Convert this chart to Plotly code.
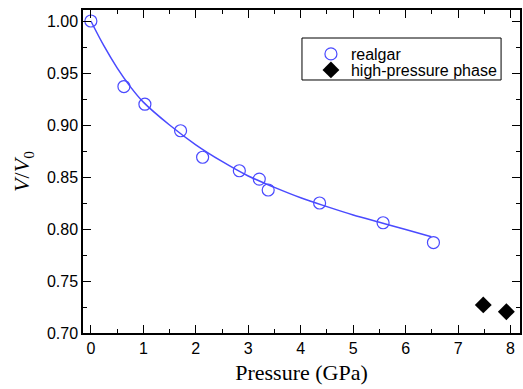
import plotly.graph_objects as go

# realgar data
p_realgar = [0.0, 0.63, 1.03, 1.71, 2.13, 2.83, 3.21, 3.38, 4.36, 5.57, 6.53]
v_realgar = [1.000, 0.937, 0.920, 0.8945, 0.869, 0.856, 0.848, 0.8375, 0.825, 0.806, 0.787]

# high-pressure phase
p_hp = [7.48, 7.92]
v_hp = [0.727, 0.7205]

# fitted curve
p_fit = [0.0, 0.25, 0.5, 0.75, 1.0, 1.5, 2.0, 2.5, 3.0, 3.5, 4.0, 4.5, 5.0, 5.5, 6.0, 6.49]
v_fit = [1.000, 0.976, 0.955, 0.937, 0.922, 0.900, 0.881, 0.865, 0.851, 0.840, 0.830,
         0.8215, 0.8135, 0.8065, 0.7995, 0.7926]

x_ticks = [0, 1, 2, 3, 4, 5, 6, 7, 8]
y_ticks = [0.70, 0.75, 0.80, 0.85, 0.90, 0.95, 1.00]

blue = "#4a4aff"

fig = go.Figure()
fig.add_trace(go.Scatter(x=p_fit, y=v_fit, mode="lines", line=dict(color=blue, width=1.5, shape="spline"),
                         showlegend=False, hoverinfo="skip"))
fig.add_trace(go.Scatter(x=p_realgar, y=v_realgar, mode="markers", name="realgar", legend="legend",
                         marker=dict(symbol="circle-open", size=12, color=blue, line=dict(width=1.2, color=blue))))
fig.add_trace(go.Scatter(x=p_hp, y=v_hp, mode="markers", name="high-pressure phase", legend="legend2",
                         marker=dict(symbol="diamond", size=13, color="black")))

axis_common = dict(showgrid=False, zeroline=False, showline=True, linecolor="black", linewidth=1.5,
                   mirror="allticks", ticks="inside", ticklen=8, tickwidth=1.2, tickcolor="black",
                   tickfont=dict(family="Liberation Sans, Arial, sans-serif", size=16, color="black"))

fig.update_xaxes(range=[-0.15, 8.18], tickvals=x_ticks, ticktext=[str(t) for t in x_ticks],
                 minor=dict(dtick=0.5, tick0=0, ticks="inside", ticklen=4, tickcolor="black", tickwidth=1),
                 title=dict(text="Pressure (GPa)", font=dict(family="Liberation Serif, Times New Roman, serif", size=22, color="black"), standoff=9),
                 **axis_common)
fig.update_yaxes(range=[0.70, 1.0106], tickvals=y_ticks, ticktext=[f"{t:.2f}" for t in y_ticks],
                 minor=dict(dtick=0.025, tick0=0.70, ticks="inside", ticklen=4, tickcolor="black", tickwidth=1),
                 title=dict(text="<i>V</i>/<i>V</i><sub>0</sub>", font=dict(family="Liberation Serif, Times New Roman, serif", size=22, color="black"), standoff=11),
                 **axis_common)

legend_font = dict(family="Liberation Sans, Arial, sans-serif", size=16, color="black")
fig.update_layout(
    width=523, height=389,
    margin=dict(l=83, r=1, t=10, b=56),
    plot_bgcolor="white", paper_bgcolor="white",
    legend=dict(x=0.5216, y=0.9164, xanchor="left", yanchor="top", borderwidth=0,
                bgcolor="rgba(0,0,0,0)", font=legend_font),
    legend2=dict(x=0.5216, y=0.8669, xanchor="left", yanchor="top", borderwidth=0,
                 bgcolor="rgba(0,0,0,0)", font=legend_font),
    shapes=[dict(type="rect", xref="paper", yref="paper", x0=0.5011, x1=0.9567, y0=0.7833, y1=0.9133,
                 line=dict(color="black", width=1), fillcolor="rgba(0,0,0,0)", layer="above")],
)

fig.write_html("out.html", config={"displayModeBar": False},
               post_script="document.body.style.margin='0';document.body.style.padding='0';")
